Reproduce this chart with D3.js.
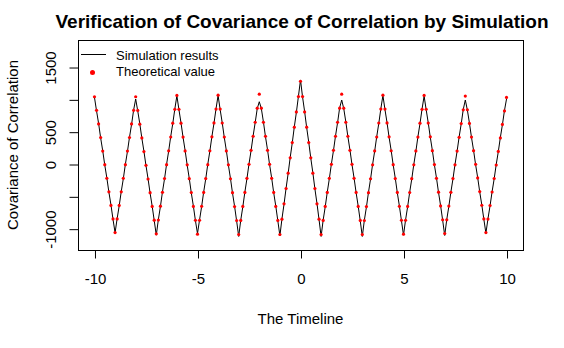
<!DOCTYPE html>
<html>
<head>
<meta charset="utf-8">
<script src="https://cdn.jsdelivr.net/npm/d3@7"></script>
<style>
  body { margin: 0; background: #fff; }
  svg text { font-family: "Liberation Sans", Arial, sans-serif; }
</style>
</head>
<body>
<svg id="chart"></svg>
<script>
// timeline: -10 .. 10 in steps of 0.1
const timeline = d3.range(201).map(i => Math.round((i - 100)) / 10);

// theoretical covariance values
const theoretical = [
  1040, 830, 620, 410, 200, -10, -220, -430, -640, -850,
  -1060, -850, -640, -430, -220, -10, 200, 410, 620, 830,
  1040, 828, 616, 404, 192, -20, -232, -444, -656, -868,
  -1080, -866, -652, -438, -224, -10, 204, 418, 632, 846,
  1060, 846, 631, 417, 202, -12, -227, -441, -656, -870,
  -1085, -870, -655, -440, -225, -10, 205, 420, 635, 850,
  1065, 849, 634, 418, 203, -12, -228, -443, -659, -874,
  -1090, -873, -656, -439, -222, -5, 212, 429, 646, 863,
  1080, 863, 646, 429, 212, -5, -222, -439, -656, -873,
  -1090, -853, -616, -379, -142, 95, 332, 569, 806, 1043,
  1280, 1043, 806, 569, 332, 95, -142, -379, -616, -853,
  -1090, -873, -656, -439, -222, -5, 212, 429, 646, 863,
  1080, 863, 646, 429, 212, -5, -222, -439, -656, -873,
  -1090, -874, -659, -443, -228, -12, 203, 418, 634, 849,
  1065, 850, 635, 420, 205, -10, -225, -440, -655, -870,
  -1085, -870, -656, -441, -227, -12, 202, 417, 631, 846,
  1060, 847, 633, 420, 206, -8, -221, -435, -648, -862,
  -1075, -863, -650, -438, -225, -12, 200, 413, 625, 838,
  1050, 839, 628, 417, 206, -5, -216, -427, -638, -849,
  -1060, -851, -642, -433, -224, -15, 194, 403, 612, 821,
  1030
];

// simulation results
const simulated = [
  1030, 822, 628, 402, 205, -18, -214, -436, -632, -858,
  -1062, -843, -646, -424, -228, -3, 193, 415, 612, 836,
  1005, 821, 622, 398, 197, -26, -226, -451, -650, -875,
  -1100, -860, -658, -431, -230, -4, 198, 424, 626, 852,
  1055, 840, 637, 411, 208, -18, -221, -447, -650, -876,
  -1075, -864, -661, -434, -231, -4, 199, 426, 629, 856,
  1060, 843, 640, 412, 209, -18, -222, -449, -653, -880,
  -1120, -867, -662, -433, -228, 1, 206, 435, 640, 857,
  963, 857, 652, 423, 218, -11, -216, -445, -650, -879,
  -1110, -847, -622, -373, -148, 101, 326, 575, 800, 1049,
  1300, 1037, 812, 563, 338, 89, -136, -385, -610, -859,
  -1120, -867, -662, -433, -228, 1, 206, 435, 640, 869,
  990, 857, 652, 423, 218, -11, -216, -445, -650, -879,
  -1120, -868, -665, -437, -234, -6, 197, 424, 628, 855,
  1060, 844, 641, 414, 211, -16, -219, -446, -649, -876,
  -1100, -864, -662, -435, -233, -6, 196, 423, 625, 852,
  1050, 841, 639, 414, 212, -14, -215, -441, -642, -868,
  -1105, -857, -656, -432, -231, -6, 194, 419, 619, 844,
  990, 833, 634, 411, 212, -11, -210, -433, -632, -855,
  -1070, -845, -648, -427, -230, -9, 188, 409, 606, 827,
  1005
];

const xTicks = [-10, -5, 0, 5, 10];
const xTickLabels = ["-10", "-5", "0", "5", "10"];
const yTicks = [-1000, -500, 0, 500, 1000, 1500];
const yTickLabels = ["-1000", "", "0", "500", "", "1500"]; // R drops overlapping labels
const legendLabels = ["Simulation results", "Theoretical value"];

const width = 564;
const height = 348;
const marginTop = 40;
const marginRight = 41;
const marginBottom = 98;
const marginLeft = 78;

const svg = d3.select("#chart").attr("width", width).attr("height", height);

const x = d3.scaleLinear()
    .domain([-10.8, 10.8])
    .range([marginLeft, width - marginRight]);

const y = d3.scaleLinear()
    .domain([-1330, 1918])
    .range([height - marginBottom, marginTop]);

// plot box
svg.append("rect")
    .attr("x", marginLeft + 0.5).attr("y", marginTop + 0.5)
    .attr("width", width - marginRight - marginLeft)
    .attr("height", height - marginBottom - marginTop)
    .attr("fill", "none").attr("stroke", "#000");

// x axis
const xAxis = svg.append("g")
    .attr("transform", `translate(0.5,${height - marginBottom + 0.5})`)
    .call(d3.axisBottom(x).tickValues(xTicks).tickSize(8).tickPadding(15).tickFormat((d, i) => xTickLabels[i]));
xAxis.select(".domain").attr("d", `M${x(-10)},0H${x(10)}`);
xAxis.selectAll("text").attr("font-size", 15).attr("font-family", "Liberation Sans, Arial, sans-serif").attr("fill", "#000");

// y axis
const yAxis = svg.append("g")
    .attr("transform", `translate(${marginLeft + 0.5},0.5)`)
    .call(d3.axisLeft(y).tickValues(yTicks).tickSize(9).tickFormat((d, i) => yTickLabels[i]));
yAxis.select(".domain").attr("d", `M0,${y(-1000)}V${y(1500)}`);
yAxis.selectAll("text")
    .attr("font-size", 15).attr("font-family", "Liberation Sans, Arial, sans-serif").attr("fill", "#000")
    .attr("text-anchor", "middle")
    .attr("x", 0).attr("dy", null).attr("y", 0)
    .attr("transform", "translate(-28,0) rotate(-90)")
    .attr("dominant-baseline", "central");

// simulation line
const line = d3.line()
    .x((d, i) => x(timeline[i]))
    .y(d => y(d));

svg.append("path")
    .datum(simulated)
    .attr("fill", "none")
    .attr("stroke", "#000")
    .attr("stroke-width", 1)
    .attr("d", line);

// theoretical points
svg.append("g")
    .selectAll("circle")
    .data(theoretical)
    .join("circle")
    .attr("cx", (d, i) => x(timeline[i]))
    .attr("cy", d => y(d))
    .attr("r", 1.6)
    .attr("fill", "#ff0000");

// title
svg.append("text")
    .attr("x", 302).attr("y", 28)
    .attr("text-anchor", "middle")
    .attr("font-size", 19).attr("font-weight", "bold")
    .text("Verification of Covariance of Correlation by Simulation");

// axis labels
svg.append("text")
    .attr("x", x(0)).attr("y", 324)
    .attr("text-anchor", "middle")
    .attr("font-size", 15)
    .text("The Timeline");

svg.append("text")
    .attr("transform", `translate(18,${(marginTop + height - marginBottom) / 2}) rotate(-90)`)
    .attr("text-anchor", "middle")
    .attr("font-size", 15)
    .text("Covariance of Correlation");

// legend
const legend = svg.append("g");
legend.append("line")
    .attr("x1", 81).attr("x2", 106).attr("y1", 54.5).attr("y2", 54.5)
    .attr("stroke", "#000");
legend.append("circle")
    .attr("cx", 92.5).attr("cy", 72.5).attr("r", 2.5)
    .attr("fill", "#ff0000");
legend.selectAll("text.leg")
    .data(legendLabels)
    .join("text")
    .attr("class", "leg")
    .attr("x", 116)
    .attr("y", (d, i) => 60 + i * 16)
    .attr("font-size", 13)
    .text(d => d);
</script>
</body>
</html>
